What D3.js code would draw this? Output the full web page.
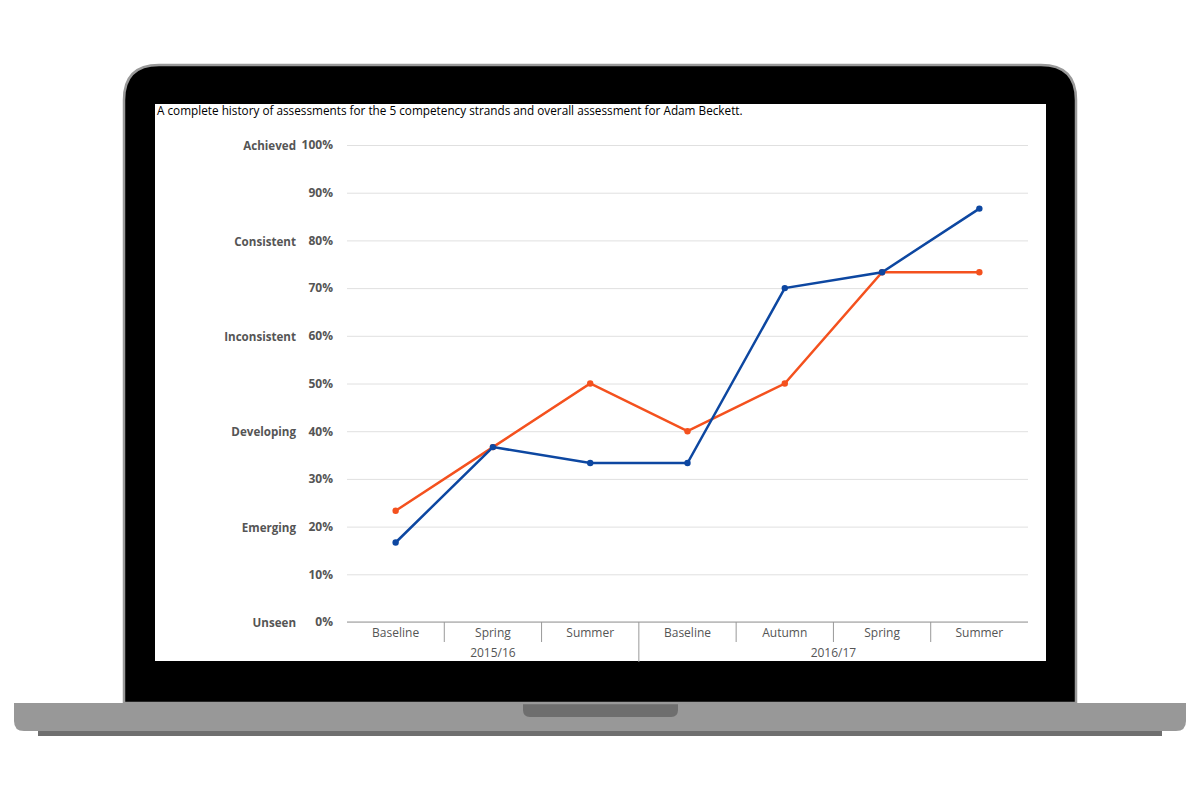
<!DOCTYPE html>
<html>
<head>
<meta charset="utf-8">
<script src="https://cdn.jsdelivr.net/npm/d3@7"></script>
<style>
  body { margin: 0; background: #fff; }
  svg { display: block; }
</style>
</head>
<body>
<div class="chart"></div>
<script>
// data
var terms = ["Baseline", "Spring", "Summer", "Baseline", "Autumn", "Spring", "Summer"]
var years = ["2015/16", "2015/16", "2015/16", "2016/17", "2016/17", "2016/17", "2016/17"]
var strands = [16.67, 36.67, 33.33, 33.33, 70, 73.33, 86.67]
var overall = [23.33, 36.67, 50, 40, 50, 73.33, 73.33]
var percentTicks = [0, 10, 20, 30, 40, 50, 60, 70, 80, 90, 100]
var levels = [
  {label: "Unseen", at: 0},
  {label: "Emerging", at: 20},
  {label: "Developing", at: 40},
  {label: "Inconsistent", at: 60},
  {label: "Consistent", at: 80},
  {label: "Achieved", at: 100}
]
var title = "A complete history of assessments for the 5 competency strands and overall assessment for Adam Beckett."

var width = 1200, height = 800
var font = "'Open Sans', 'Noto Sans', sans-serif"

var svg = d3.select(".chart")
  .append("svg")
    .attr("width", width)
    .attr("height", height)

// laptop frame
svg.append("rect")  // base shadow
  .attr("x", 38).attr("y", 726).attr("width", 1124).attr("height", 10)
  .attr("fill", "#6f6f6f")
svg.append("path")  // base
  .attr("d", "M14,703 H1186 V721 Q1186,731 1176,731 H24 Q14,731 14,721 Z")
  .attr("fill", "#989898")
svg.append("path")  // notch
  .attr("d", "M523,703 H678 V710 Q678,717 671,717 H530 Q523,717 523,710 Z")
  .attr("fill", "#6e6e6e")
svg.append("path")  // bezel
  .attr("d", "M124,703 V100 Q124,65 159,65 H1041 Q1076,65 1076,100 V703 Z")
  .attr("fill", "#000")
  .attr("stroke", "#999")
  .attr("stroke-width", 2.5)
svg.append("rect")  // screen
  .attr("x", 155).attr("y", 104).attr("width", 891).attr("height", 557)
  .attr("fill", "#fff")

svg.append("text")
  .attr("x", 157).attr("y", 115)
  .attr("font-family", font).attr("font-size", 11.75)
  .attr("fill", "#000")
  .text(title)

var margin = {top: 145, left: 347}
var plotW = 1028 - 347, plotH = 622 - 145
var g = svg.append("g")
  .attr("transform", `translate(${margin.left},${margin.top})`)

const x = d3.scaleBand()
  .domain(d3.range(terms.length))
  .range([0, plotW])

const y = d3.scaleLinear()
  .domain([0, 100])
  .range([plotH, 0])

// gridlines + percent labels
g.append("g")
  .call(d3.axisLeft(y).tickValues(percentTicks).tickSize(-plotW).tickFormat(d => d + "%").tickPadding(14))
  .call(ax => ax.select(".domain").remove())
  .call(ax => ax.selectAll("line").attr("stroke", "#e0e0e0"))
  .call(ax => ax.selectAll("text")
    .attr("font-family", font).attr("font-size", 12).attr("font-weight", "bold")
    .attr("fill", "#555"))

// level names
g.selectAll(".level")
  .data(levels)
  .join("text")
    .attr("class", "level")
    .attr("x", -51)
    .attr("y", d => y(d.at) + 1.5)
    .attr("dy", "0.32em")
    .attr("text-anchor", "end")
    .attr("font-family", font).attr("font-size", 11.6).attr("font-weight", "bold")
    .attr("fill", "#555")
    .text(d => d.label)

// x axis: baseline, term labels, separators
g.append("line")
  .attr("x1", 0).attr("x2", plotW).attr("y1", plotH).attr("y2", plotH)
  .attr("stroke", "#999").attr("stroke-width", 1.2)

g.selectAll(".term")
  .data(terms)
  .join("text")
    .attr("class", "term")
    .attr("x", (d, i) => x(i) + x.bandwidth() / 2)
    .attr("y", plotH + 15)
    .attr("text-anchor", "middle")
    .attr("font-family", font).attr("font-size", 12)
    .attr("fill", "#555")
    .text(d => d)

var seps = d3.range(1, terms.length)
g.selectAll(".sep")
  .data(seps)
  .join("line")
    .attr("class", "sep")
    .attr("x1", i => x(i)).attr("x2", i => x(i))
    .attr("y1", plotH)
    .attr("y2", i => years[i] !== years[i - 1] ? plotH + 40 : plotH + 20)
    .attr("stroke", "#999")

// year group labels
var groups = d3.groups(terms.map((t, i) => ({i, year: years[i]})), d => d.year)
g.selectAll(".year")
  .data(groups)
  .join("text")
    .attr("class", "year")
    .attr("x", d => (x(d[1][0].i) + x(d[1][d[1].length - 1].i) + x.bandwidth()) / 2)
    .attr("y", plotH + 35)
    .attr("text-anchor", "middle")
    .attr("font-family", font).attr("font-size", 12)
    .attr("fill", "#555")
    .text(d => d[0])

// lines
var series = [
  {name: "overall", values: overall, colour: "#f4511e"},
  {name: "strands", values: strands, colour: "#0d47a1"}
]
var line = d3.line()
  .x((d, i) => x(i) + x.bandwidth() / 2)
  .y(d => y(d))

series.forEach(s => {
  g.append("path")
    .datum(s.values)
    .attr("d", line)
    .attr("fill", "none")
    .attr("stroke", s.colour)
    .attr("stroke-width", 2.5)
  g.selectAll(".dot-" + s.name)
    .data(s.values)
    .join("circle")
      .attr("cx", (d, i) => x(i) + x.bandwidth() / 2)
      .attr("cy", d => y(d))
      .attr("r", 3.2)
      .attr("fill", s.colour)
})
</script>
</body>
</html>
